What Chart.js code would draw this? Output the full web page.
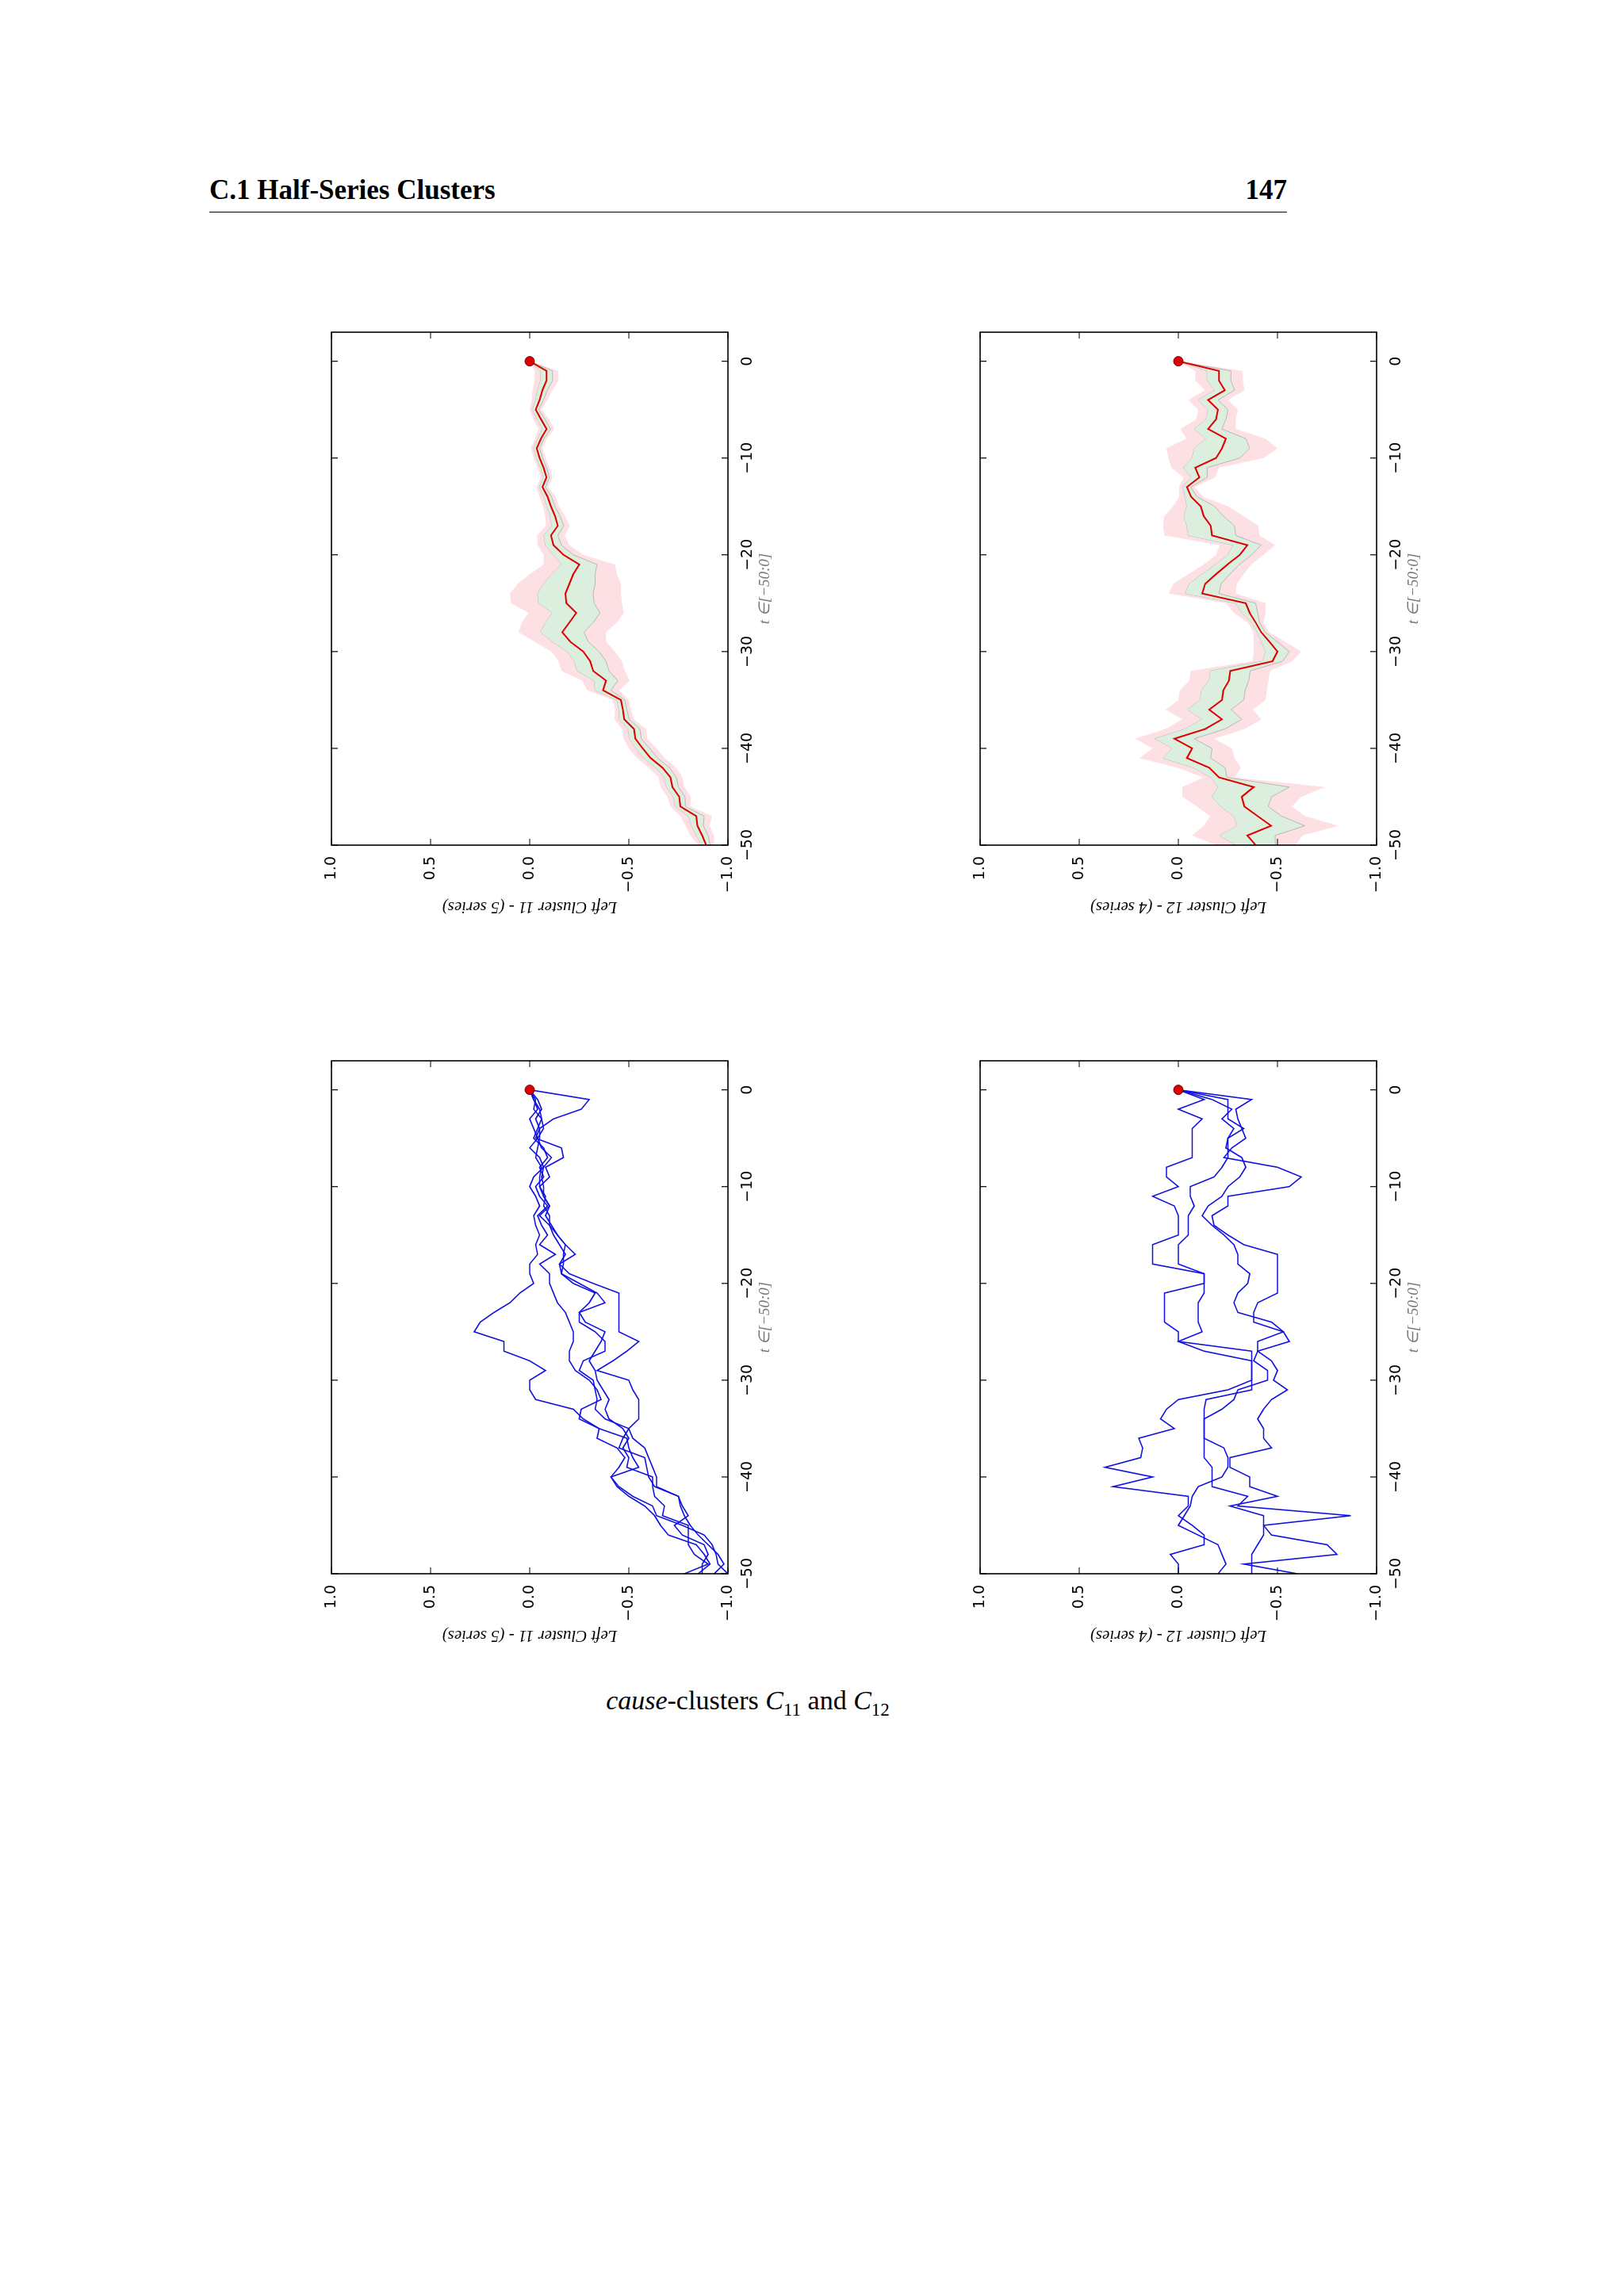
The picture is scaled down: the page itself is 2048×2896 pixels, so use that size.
<!DOCTYPE html>
<html><head><meta charset="utf-8">
<script src="https://cdn.jsdelivr.net/npm/chart.js@4.4.0/dist/chart.umd.min.js"></script>
<style>
body{margin:0;background:#fff;width:2048px;height:2896px;position:relative;overflow:hidden;font-family:"Liberation Serif","DejaVu Serif",serif;}
.hd{position:absolute;top:220px;font-weight:bold;font-size:35px;}
.rule{position:absolute;left:264px;top:267px;width:1359px;height:0;border-top:1.6px solid #000;}
.box{position:absolute;width:760px;height:580px;transform:rotate(-90deg);transform-origin:50% 50%;}
.cap{position:absolute;top:2126px;left:0;width:1886px;text-align:center;font-size:34px;}
</style></head><body>
<div class="hd" style="left:264px">C.1 Half-Series Clusters</div>
<div class="hd" style="left:1500px;width:123px;text-align:right">147</div>
<div class="rule"></div>
<div class="box" id="bA"><canvas id="cA" width="760" height="580"></canvas></div>
<div class="box" id="bB"><canvas id="cB" width="760" height="580"></canvas></div>
<div class="box" id="bC"><canvas id="cC" width="760" height="580"></canvas></div>
<div class="box" id="bD"><canvas id="cD" width="760" height="580"></canvas></div>
<div class="cap"><i>cause</i>-clusters <i>C</i><sub style="font-size:23px">11</sub> and <i>C</i><sub style="font-size:23px">12</sub></div>
<script>
// time index t = 0, -1, ..., -50
const tValues = [0,-1,-2,-3,-4,-5,-6,-7,-8,-9,-10,-11,-12,-13,-14,-15,-16,-17,-18,-19,-20,-21,-22,-23,-24,-25,-26,-27,-28,-29,-30,-31,-32,-33,-34,-35,-36,-37,-38,-39,-40,-41,-42,-43,-44,-45,-46,-47,-48,-49,-50];
const valueTicks = [-1.0,-0.5,0.0,0.5,1.0];
const timeTicks = [-50,-40,-30,-20,-10,0];

// Cluster 11 mean and spread
const mean11 = [0,-0.085,-0.085,-0.064,-0.05,-0.03,-0.057,-0.085,-0.057,-0.035,-0.05,-0.07,-0.085,-0.064,-0.09,-0.107,-0.128,-0.142,-0.107,-0.12,-0.17,-0.25,-0.22,-0.2,-0.18,-0.185,-0.235,-0.2,-0.164,-0.206,-0.27,-0.305,-0.32,-0.385,-0.37,-0.46,-0.47,-0.477,-0.526,-0.533,-0.57,-0.61,-0.67,-0.71,-0.72,-0.754,-0.76,-0.84,-0.846,-0.87,-0.89];
const sd11 = [0,0.03,0.03,0.025,0.02,0.015,0.02,0.02,0.015,0.015,0.015,0.015,0.015,0.015,0.02,0.02,0.025,0.03,0.035,0.04,0.05,0.09,0.11,0.13,0.14,0.14,0.12,0.12,0.11,0.09,0.08,0.08,0.08,0.06,0.04,0.02,0.02,0.025,0.03,0.03,0.035,0.035,0.035,0.03,0.03,0.03,0.025,0.04,0.03,0.03,0.02];
// Cluster 12 mean and spread
const mean12 = [0,-0.205,-0.205,-0.234,-0.15,-0.2,-0.19,-0.15,-0.24,-0.22,-0.19,-0.085,-0.106,-0.043,-0.064,-0.113,-0.128,-0.163,-0.17,-0.348,-0.31,-0.248,-0.19,-0.135,-0.12,-0.34,-0.36,-0.39,-0.418,-0.46,-0.5,-0.475,-0.262,-0.255,-0.227,-0.22,-0.156,-0.22,-0.135,0.02,-0.07,-0.043,-0.156,-0.205,-0.38,-0.32,-0.333,-0.4,-0.468,-0.348,-0.39];
const sd12 = [0,0.06,0.06,0.05,0.05,0.05,0.05,0.07,0.1,0.14,0.12,0.06,0.04,0.02,0.03,0.07,0.1,0.12,0.12,0.07,0.06,0.06,0.07,0.08,0.085,0.05,0.04,0.02,0.02,0.04,0.06,0.05,0.1,0.1,0.11,0.11,0.11,0.1,0.1,0.1,0.1,0.12,0.08,0.04,0.18,0.15,0.12,0.12,0.17,0.14,0.1];

// Cluster 11 individual series
const s11a = [0,-0.3,-0.26,-0.12,-0.05,-0.03,-0.16,-0.17,-0.08,-0.1,-0.05,-0.07,-0.1,-0.05,-0.1,-0.14,-0.18,-0.23,-0.15,-0.2,-0.32,-0.45,-0.45,-0.45,-0.45,-0.45,-0.55,-0.49,-0.42,-0.34,-0.5,-0.52,-0.55,-0.55,-0.55,-0.5,-0.47,-0.45,-0.58,-0.59,-0.6,-0.63,-0.75,-0.76,-0.78,-0.81,-0.85,-0.9,-0.95,-0.98,-0.93];
const s11b = [0,-0.02,-0.04,0.0,-0.02,-0.04,0.0,-0.05,-0.07,-0.02,0.0,-0.03,-0.05,-0.02,-0.03,-0.05,-0.03,-0.04,0.0,0.0,-0.02,0.05,0.1,0.18,0.25,0.28,0.13,0.13,0.0,-0.08,0.0,0.0,-0.03,-0.22,-0.27,-0.35,-0.34,-0.44,-0.48,-0.45,-0.41,-0.45,-0.52,-0.62,-0.64,-0.77,-0.88,-0.92,-0.94,-0.95,-1.0];
const s11c = [0,-0.03,-0.02,-0.06,-0.04,-0.02,-0.07,-0.09,-0.05,-0.07,-0.03,-0.05,-0.09,-0.04,-0.06,-0.09,-0.05,-0.13,-0.05,-0.1,-0.1,-0.12,-0.14,-0.18,-0.2,-0.22,-0.22,-0.2,-0.2,-0.23,-0.3,-0.34,-0.36,-0.26,-0.25,-0.35,-0.49,-0.5,-0.52,-0.55,-0.41,-0.44,-0.5,-0.58,-0.63,-0.66,-0.7,-0.84,-0.88,-0.91,-0.85];
const s11d = [0,-0.04,-0.06,-0.03,-0.05,-0.05,-0.04,-0.03,-0.06,-0.05,-0.05,-0.08,-0.07,-0.1,-0.1,-0.12,-0.15,-0.18,-0.15,-0.16,-0.25,-0.34,-0.38,-0.25,-0.25,-0.33,-0.38,-0.38,-0.27,-0.25,-0.32,-0.33,-0.34,-0.33,-0.38,-0.5,-0.52,-0.58,-0.6,-0.62,-0.64,-0.64,-0.75,-0.77,-0.8,-0.73,-0.77,-0.88,-0.9,-0.87,-0.87];
const s11e = [0,-0.02,-0.05,-0.06,-0.07,-0.04,-0.06,-0.11,-0.07,-0.06,-0.07,-0.07,-0.1,-0.08,-0.11,-0.14,-0.18,-0.17,-0.17,-0.16,-0.22,-0.33,-0.3,-0.25,-0.28,-0.38,-0.36,-0.33,-0.3,-0.33,-0.34,-0.37,-0.4,-0.38,-0.4,-0.47,-0.5,-0.47,-0.5,-0.49,-0.62,-0.62,-0.63,-0.68,-0.67,-0.8,-0.8,-0.8,-0.83,-0.9,-0.78];
// Cluster 12 individual series
const s12a = [0,-0.37,-0.29,-0.3,-0.32,-0.34,-0.27,-0.23,-0.5,-0.62,-0.56,-0.25,-0.25,-0.17,-0.18,-0.25,-0.33,-0.5,-0.5,-0.5,-0.5,-0.5,-0.4,-0.38,-0.38,-0.53,-0.56,-0.4,-0.38,-0.45,-0.45,-0.3,-0.28,-0.22,-0.13,-0.13,-0.13,-0.23,-0.25,-0.25,-0.22,-0.1,-0.07,-0.06,-0.03,0.0,-0.1,-0.2,-0.22,-0.24,-0.2];
const s12b = [0,-0.13,0.0,-0.12,-0.07,-0.07,-0.07,-0.07,0.06,0.06,0.0,0.13,0.02,0.0,0.0,0.0,0.13,0.13,0.13,-0.13,-0.13,0.07,0.07,0.07,0.07,0.0,0.0,-0.37,-0.37,-0.37,-0.37,-0.25,0.0,0.06,0.09,0.02,0.2,0.18,0.19,0.37,0.13,0.33,-0.05,-0.05,0.0,-0.07,-0.13,-0.13,0.04,0.0,0.0];
const s12c = [0,-0.25,-0.25,-0.25,-0.33,-0.25,-0.25,-0.25,-0.22,-0.18,-0.06,-0.06,-0.08,-0.05,-0.05,-0.05,0.0,0.0,0.0,-0.13,-0.13,-0.13,-0.1,-0.1,-0.1,-0.12,0.0,-0.13,-0.37,-0.37,-0.37,-0.37,-0.14,-0.13,-0.13,-0.13,-0.13,-0.13,-0.13,-0.17,-0.17,-0.17,-0.35,-0.3,-0.87,-0.43,-0.43,-0.4,-0.37,-0.37,-0.37];
const s12d = [0,-0.17,-0.27,-0.22,-0.28,-0.25,-0.24,-0.32,-0.34,-0.31,-0.25,-0.22,-0.15,-0.12,-0.17,-0.23,-0.28,-0.3,-0.3,-0.36,-0.35,-0.3,-0.28,-0.3,-0.47,-0.53,-0.4,-0.4,-0.47,-0.5,-0.48,-0.55,-0.47,-0.43,-0.4,-0.43,-0.43,-0.47,-0.26,-0.26,-0.36,-0.36,-0.5,-0.26,-0.43,-0.43,-0.47,-0.75,-0.8,-0.33,-0.6];

const pts = arr => tValues.map((t,i)=>({x:t,y:arr[i]}));
const minus = s => String(s).replace('-','\u2212');

const framePlugin = {id:'frame', afterDraw(ch){
  const c=ch.ctx, a=ch.chartArea, xs=ch.scales.x, ys=ch.scales.y;
  c.save(); c.strokeStyle='#000'; c.lineWidth=1.6;
  c.strokeRect(a.left,a.top,a.right-a.left,a.bottom-a.top);
  c.lineWidth=1.2; c.beginPath();
  timeTicks.forEach(v=>{const p=xs.getPixelForValue(v); c.moveTo(p,a.bottom); c.lineTo(p,a.bottom-8); c.moveTo(p,a.top); c.lineTo(p,a.top+8);});
  valueTicks.forEach(v=>{const p=ys.getPixelForValue(v); c.moveTo(a.left,p); c.lineTo(a.left+8,p); c.moveTo(a.right,p); c.lineTo(a.right-8,p);});
  c.stroke(); c.restore();
}};

function scales(title){
  return {
    x:{type:'linear',min:-50,max:3,grid:{display:false},border:{display:false},
       afterFit(s){s.height=62;},
       afterBuildTicks(s){s.ticks=timeTicks.map(v=>({value:v}));},
       ticks:{color:'#000',font:{family:'DejaVu Sans',size:19},padding:6,maxRotation:0,callback:v=>minus(v)},
       title:{display:true,text:'t \u2208[\u221250:0]',color:'#777',font:{family:'Liberation Serif',size:19,style:'italic'},padding:{top:0}}},
    y:{type:'linear',min:-1,max:1,grid:{display:false},border:{display:false},
       afterFit(s){s.width=94;},
       afterBuildTicks(s){s.ticks=valueTicks.map(v=>({value:v}));},
       ticks:{color:'#000',font:{family:'DejaVu Sans',size:19},padding:6,callback:v=>minus(Number(v).toFixed(1))},
       title:{display:true,text:title,color:'#000',font:{family:'Liberation Serif',size:21,style:'italic'},padding:{bottom:14}}}
  };
}
const dot = () => ({type:'scatter',order:0,data:[{x:0,y:0}],pointRadius:6,pointBackgroundColor:'#e00000',pointBorderColor:'#600',pointBorderWidth:1,showLine:false});
const opts = title => ({responsive:false,animation:false,devicePixelRatio:1,
  layout:{padding:{top:18,right:19,left:0,bottom:0}},
  plugins:{legend:{display:false},tooltip:{enabled:false}},
  elements:{point:{radius:0},line:{tension:0}}, scales:scales(title)});

function bandChart(id, mean, sd, title){
  const ou=mean.map((m,i)=>m+2*sd[i]), ol=mean.map((m,i)=>m-2*sd[i]);
  const iu=mean.map((m,i)=>m+sd[i]), il=mean.map((m,i)=>m-sd[i]);
  new Chart(document.getElementById(id),{type:'line',data:{datasets:[
    {order:6,data:pts(ou),borderWidth:0,borderColor:'rgba(0,0,0,0)',fill:false},
    {order:5,data:pts(ol),borderWidth:0,borderColor:'rgba(0,0,0,0)',fill:'-1',backgroundColor:'#fde0e3'},
    {order:4,data:pts(iu),borderWidth:1,borderColor:'#b8b8b8',fill:false},
    {order:3,data:pts(il),borderWidth:1,borderColor:'#b8b8b8',fill:'-1',backgroundColor:'#dcefdf'},
    {order:1,data:pts(mean),borderWidth:2,borderColor:'#e00000',fill:false},
    dot()
  ]},options:opts(title),plugins:[framePlugin]});
}
function seriesChart(id, list, title){
  const ds=list.map((a,k)=>({order:k+1,data:pts(a),borderWidth:1.6,borderColor:'#1010e0',fill:false}));
  ds.push(dot());
  new Chart(document.getElementById(id),{type:'line',data:{datasets:ds},options:opts(title),plugins:[framePlugin]});
}
function place(boxId, frameLeft, frameTop){
  const L=frameLeft-18, T=frameTop-19, cx=L+290, cy=T+380;
  const b=document.getElementById(boxId); b.style.left=(cx-380)+'px'; b.style.top=(cy-290)+'px';
}
place('bA',418,419); place('bB',1236,419); place('bC',418,1338); place('bD',1236,1338);
bandChart('cA',mean11,sd11,'Left Cluster 11 - (5 series)');
bandChart('cB',mean12,sd12,'Left Cluster 12 - (4 series)');
seriesChart('cC',[s11a,s11b,s11c,s11d,s11e],'Left Cluster 11 - (5 series)');
seriesChart('cD',[s12a,s12b,s12c,s12d],'Left Cluster 12 - (4 series)');
</script></body></html>
